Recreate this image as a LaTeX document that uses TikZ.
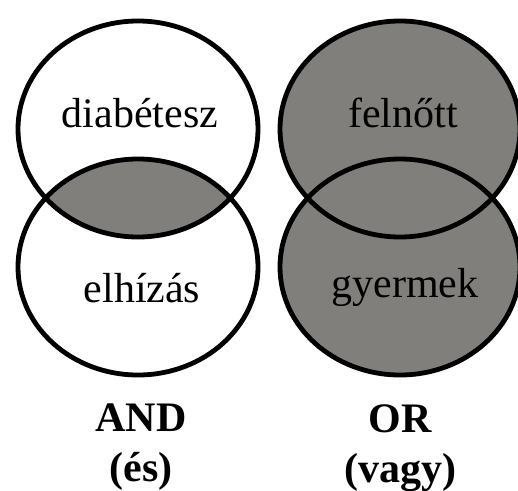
\documentclass[tikz,border=0pt]{standalone}
\usepackage{fontspec}
\setmainfont{Liberation Serif}
\usepackage{tikz}
\usetikzlibrary{positioning}
\definecolor{setgray}{RGB}{128,127,123}

\begin{document}
\begin{tikzpicture}[
  x=1pt, y=-1pt,
  outline/.style={draw=black, line width=4.8pt},
  setlabel/.style={font=\fontsize{42}{44}\selectfont, anchor=base, inner sep=0pt},
  oplabel/.style={font=\fontsize{42}{50}\selectfont\bfseries, align=center, anchor=north, inner sep=0pt}
]
\useasboundingbox (0,0) rectangle (518,490);

% Set centres
\coordinate (dia) at (138,129);
\coordinate (elh) at (138,267);
\coordinate (fel) at (400,129);
\coordinate (gye) at (400,267);

% AND: only the overlap is shaded
\begin{scope}
  \clip (dia) ellipse [x radius=120, y radius=108];
  \fill[setgray] (elh) ellipse [x radius=120, y radius=108];
\end{scope}
\draw[outline] (dia) ellipse [x radius=120, y radius=108];
\draw[outline] (elh) ellipse [x radius=120, y radius=108];

% OR: both sets shaded
\fill[setgray] (fel) ellipse [x radius=120, y radius=108];
\fill[setgray] (gye) ellipse [x radius=120, y radius=108];
\draw[outline] (fel) ellipse [x radius=120, y radius=108];
\draw[outline] (gye) ellipse [x radius=120, y radius=108];

% Set labels
\node[setlabel] (diabetesz) at (140,127) {diabétesz};
\node[setlabel] (elhizas) at (142,302) {elhízás};
\node[setlabel] (felnott) at (403,127) {felnőtt};
\node[setlabel] (gyermek) at (405,297) {gyermek};

% Operators
\node[oplabel] (andop) at (141,404) {AND\\(és)};
\node[oplabel] (orop) at (400,404) {OR\\(vagy)};

\end{tikzpicture}
\end{document}
